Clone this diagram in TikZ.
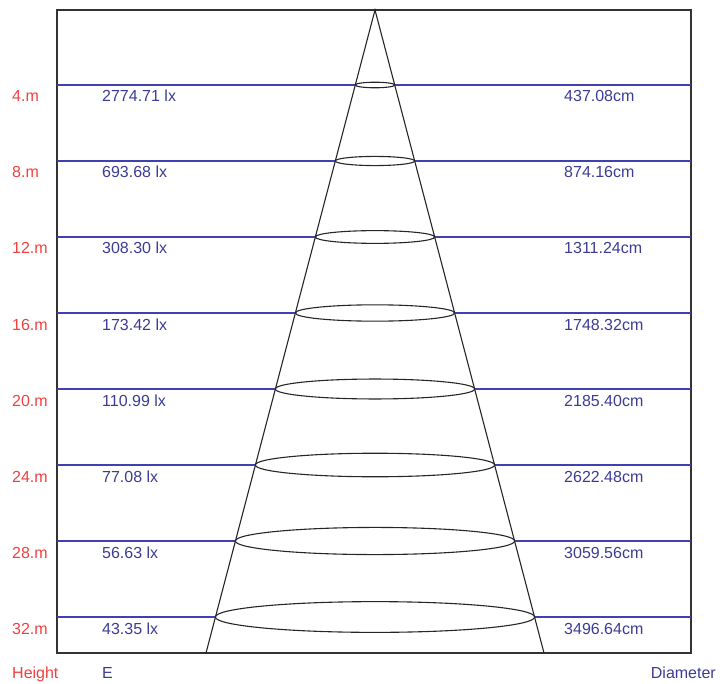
\documentclass[tikz,border=0pt]{standalone}
\usepackage{fontspec}
\setmainfont{Liberation Sans}
\definecolor{hred}{RGB}{240,64,64}
\definecolor{lblue}{RGB}{64,64,176}
\definecolor{tblue}{RGB}{60,60,150}

\begin{document}
\begin{tikzpicture}[x=1pt,y=-1pt,font=\fontsize{16}{16}\selectfont,
	hlab/.style={text=hred,anchor=base west,inner sep=0pt},
	vlab/.style={text=tblue,anchor=base west,inner sep=0pt},
	level/.style={lblue,line width=1.2pt},
	beam/.style={black!85,line width=1.1pt}]
	\useasboundingbox (0,0) rectangle (727,684);
	\draw[line width=1.2pt,black!80] (57,10) rectangle (691,653);
	\coordinate (apex) at (375,10);
	\coordinate (bl) at (206,653);
	\coordinate (br) at (544,653);
	\draw[beam] (bl) -- (apex) -- (br);
	\foreach \y/\h/\e/\d in {85/4.m/2774.71 lx/437.08cm,
		161/8.m/693.68 lx/874.16cm,
		237/12.m/308.30 lx/1311.24cm,
		313/16.m/173.42 lx/1748.32cm,
		389/20.m/110.99 lx/2185.40cm,
		465/24.m/77.08 lx/2622.48cm,
		541/28.m/56.63 lx/3059.56cm,
		617/32.m/43.35 lx/3496.64cm} {
		\pgfmathsetmacro{\ra}{0.263*(\y-10)}
		\pgfmathsetmacro{\rb}{0.09*\ra+1}
		\coordinate (l\y) at (57,\y);
		\coordinate (r\y) at (691,\y);
		\coordinate (cl\y) at (375-\ra,\y);
		\coordinate (cr\y) at (375+\ra,\y);
		\draw[level] (l\y) -- (cl\y);
		\draw[level] (cr\y) -- (r\y);
		\draw[beam] (375,\y) ellipse [x radius=\ra,y radius=\rb];
		\node[hlab] (h\y) at (12,\y+17) {\h};
		\node[vlab] (e\y) at (102,\y+17) {\e};
		\node[vlab] (d\y) at (564,\y+17) {\d};
	}
	\node[hlab] (height) at (12,678) {Height};
	\node[vlab] (elab) at (102,678) {E};
	\node[vlab,anchor=base east] (diam) at (716,678) {Diameter};
\end{tikzpicture}
\end{document}
